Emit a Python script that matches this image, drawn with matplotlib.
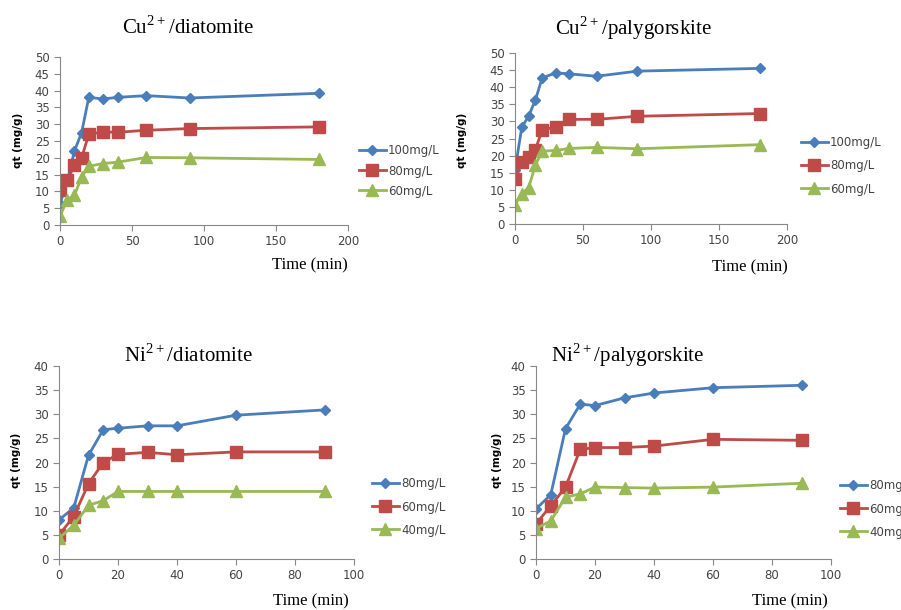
import matplotlib
matplotlib.use("Agg")
import matplotlib.pyplot as plt

plt.rcParams["mathtext.fontset"] = "custom"
plt.rcParams["mathtext.rm"] = "Liberation Serif"

# data
t_cu = [0, 5, 10, 15, 20, 30, 40, 60, 90, 180]
t_ni = [0, 5, 10, 15, 20, 30, 40, 60, 90]

cu_dia_100 = [6.3, 13.0, 22.0, 27.5, 38.0, 37.5, 38.0, 38.5, 37.8, 39.2]
cu_dia_80 = [10.5, 13.3, 17.8, 20.0, 27.0, 27.7, 27.6, 28.2, 28.7, 29.2]
cu_dia_60 = [2.6, 7.5, 8.8, 14.3, 17.5, 18.3, 18.7, 20.1, 20.0, 19.5]

cu_pal_100 = [15.8, 28.3, 31.5, 36.3, 42.7, 44.2, 43.9, 43.2, 44.7, 45.5]
cu_pal_80 = [13.2, 18.2, 19.6, 21.7, 27.6, 28.3, 30.6, 30.6, 31.5, 32.3]
cu_pal_60 = [5.6, 8.9, 10.6, 17.2, 21.3, 21.5, 22.1, 22.4, 22.0, 23.2]

ni_dia_80 = [8.1, 10.6, 21.5, 26.8, 27.1, 27.6, 27.6, 29.8, 30.9]
ni_dia_60 = [5.0, 8.8, 15.6, 20.0, 21.7, 22.1, 21.6, 22.2, 22.2]
ni_dia_40 = [4.3, 7.0, 11.1, 12.1, 14.0, 14.0, 14.0, 14.0, 14.0]

ni_pal_80 = [10.4, 13.3, 27.0, 32.1, 31.8, 33.4, 34.4, 35.5, 36.0]
ni_pal_60 = [7.3, 11.0, 14.9, 22.7, 23.1, 23.1, 23.4, 24.8, 24.6]
ni_pal_40 = [6.3, 7.9, 12.8, 13.5, 14.9, 14.8, 14.7, 14.9, 15.7]

cu_labels = ["100mg/L", "80mg/L", "60mg/L"]
ni_labels = ["80mg/L", "60mg/L", "40mg/L"]

W, H = 901, 610
colors = ["#4A7EBB", "#BE4B48", "#98B954"]
markers = ["D", "s", "^"]
msizes = [5, 8, 8]

fig = plt.figure(figsize=(W / 100, H / 100), dpi=100)


def panel(px0, px1, py0, py1, t, series, labels, xmax, xstep, ymax, ystep,
          title, tpos, xlpos, ylpos, legpos):
    ax = fig.add_axes([px0 / W, 1 - py0 / H, (px1 - px0) / W, (py0 - py1) / H])
    for s, lab, c, m, ms in zip(series, labels, colors, markers, msizes):
        ax.plot(t, s, color=c, marker=m, markersize=ms, linewidth=2, label=lab)
    ax.set_xlim(0, xmax)
    ax.set_ylim(0, ymax)
    ax.set_xticks(range(0, xmax + 1, xstep))
    ax.set_yticks(range(0, ymax + 1, ystep))
    for side in ["top", "right"]:
        ax.spines[side].set_visible(False)
    for side in ["left", "bottom"]:
        ax.spines[side].set_color("#888888")
    ax.tick_params(colors="#888888", labelcolor="#444444", labelsize=8.5,
                   direction="out", length=4)
    ax.patch.set_alpha(0)
    fig.text(tpos[0] / W, 1 - tpos[1] / H, title, family="Liberation Serif",
             fontsize=15, ha="center", va="center")
    fig.text(xlpos[0] / W, 1 - xlpos[1] / H, "Time (min)", family="Liberation Serif",
             fontsize=12, ha="center", va="center")
    fig.text(ylpos[0] / W, 1 - ylpos[1] / H, "qt (mg/g)", fontsize=7.5,
             fontweight="bold", rotation=90, ha="center", va="center")
    ax.legend(loc="center left", bbox_to_anchor=(legpos[0] / W, 1 - legpos[1] / H),
              bbox_transform=fig.transFigure, frameon=False, fontsize=8.5,
              labelspacing=legpos[2], handlelength=2.3, handletextpad=0.2,
              labelcolor="#444444")
    return ax


panel(60, 348, 225, 57, t_cu, [cu_dia_100, cu_dia_80, cu_dia_60], cu_labels,
      200, 50, 50, 5, r"Cu$^{\mathrm{2+}}$/diatomite", (188, 28), (310, 265), (18, 140),
      (348, 171, 0.6))
panel(515, 787, 224, 53, t_cu, [cu_pal_100, cu_pal_80, cu_pal_60], cu_labels,
      200, 50, 50, 5, r"Cu$^{\mathrm{2+}}$/palygorskite", (633, 28), (750, 267), (462, 140),
      (790, 166, 0.85))
panel(59, 354, 559, 366, t_ni, [ni_dia_80, ni_dia_60, ni_dia_40], ni_labels,
      100, 20, 40, 5, r"Ni$^{\mathrm{2+}}$/diatomite", (188, 355), (311, 601), (16, 460),
      (361, 507, 0.85))
panel(536, 831, 559, 366, t_ni, [ni_pal_80, ni_pal_60, ni_pal_40], ni_labels,
      100, 20, 40, 5, r"Ni$^{\mathrm{2+}}$/palygorskite", (628, 355), (790, 601), (497, 460),
      (829, 509, 0.85))

fig.savefig("out.png", dpi=100)
